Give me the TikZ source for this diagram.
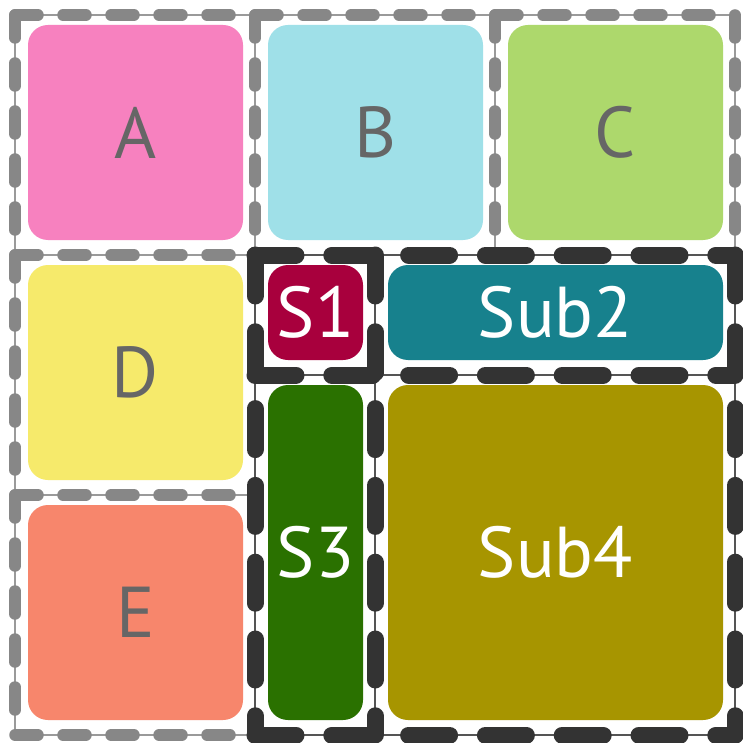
\documentclass[tikz,border=0pt]{standalone}
\usepackage{fontspec}
\setmainfont{PT Sans}
\definecolor{cA}{HTML}{F781BF}
\definecolor{cB}{HTML}{9FE0E8}
\definecolor{cC}{HTML}{ADD86C}
\definecolor{cD}{HTML}{F6EA6B}
\definecolor{cE}{HTML}{F7866C}
\definecolor{cS1}{HTML}{A8003D}
\definecolor{cS2}{HTML}{17818D}
\definecolor{cS3}{HTML}{2A7100}
\definecolor{cS4}{HTML}{A79500}
\definecolor{dashL}{HTML}{878787}
\definecolor{dashD}{HTML}{333333}
\definecolor{thinL}{HTML}{9A9A9A}
\definecolor{thinD}{HTML}{555555}
\definecolor{lbltext}{HTML}{666666}
\begin{document}
\begin{tikzpicture}[x=1pt,y=-1pt,
  tile/.style={rectangle, rounded corners=20pt, draw=none, inner sep=0pt,
    font=\fontsize{72}{72}\selectfont, text=lbltext},
  darktile/.style={tile, text=white},
  thinlight/.style={draw=thinL, line width=2pt},
  thindark/.style={draw=thinD, line width=2pt},
  graydash/.style={draw=dashL, line width=11.5pt, line cap=round, dash pattern=on 23pt off 25pt},
  darkdash/.style={draw=dashD, line width=17pt, line cap=round, dash pattern=on 41pt off 35.8pt}]
\useasboundingbox (0,0) rectangle (743,743);
\fill[white] (0,0) rectangle (743,743);
% thin cell borders
\draw[thinlight] (15,15) rectangle (255,255);
\draw[thinlight] (255,15) rectangle (495,255);
\draw[thinlight] (495,15) rectangle (735,255);
\draw[thinlight] (15,255) rectangle (255,495);
\draw[thinlight] (15,495) rectangle (255,735);
\draw[thindark] (255,255) rectangle (375,375);
\draw[thindark] (375,255) rectangle (735,375);
\draw[thindark] (255,375) rectangle (375,735);
\draw[thindark] (375,375) rectangle (735,735);
% gray dashed borders
\draw[graydash] (15,15) -- (735,15);
\draw[graydash] (15,255) -- (255,255);
\draw[graydash] (15,495) -- (255,495);
\draw[graydash] (15,735) -- (255,735);
\draw[graydash] (15,15) -- (15,735);
\draw[graydash] (255,15) -- (255,255);
\draw[graydash] (495,15) -- (495,255);
\draw[graydash] (735,15) -- (735,255);
% dark dashed borders
\draw[darkdash] (255,255) -- (735,255);
\draw[darkdash] (255,375) -- (735,375);
\draw[darkdash] (255,735) -- (735,735);
\draw[darkdash] (255,255) -- (255,735);
\draw[darkdash] (375,255) -- (375,735);
\draw[darkdash] (735,255) -- (735,735);
% tiles
\node[tile, fill=cA, minimum width=215pt, minimum height=215pt] (A) at (135.5,132.5) {A};
\node[tile, fill=cB, minimum width=215pt, minimum height=215pt] (B) at (375.5,132.5) {B};
\node[tile, fill=cC, minimum width=215pt, minimum height=215pt] (C) at (615.5,132.5) {C};
\node[tile, fill=cD, minimum width=215pt, minimum height=215pt] (D) at (135.5,372.5) {D};
\node[tile, fill=cE, minimum width=215pt, minimum height=215pt] (E) at (135.5,612.5) {E};
\node[darktile, fill=cS1, minimum width=95pt, minimum height=95pt] (S1) at (315.5,312.5) {S1};
\node[darktile, fill=cS2, minimum width=335pt, minimum height=95pt] (Sub2) at (555.5,312.5) {Sub2};
\node[darktile, fill=cS3, minimum width=95pt, minimum height=335pt] (S3) at (315.5,552.5) {S3};
\node[darktile, fill=cS4, minimum width=335pt, minimum height=335pt] (Sub4) at (555.5,552.5) {Sub4};
\end{tikzpicture}
\end{document}
